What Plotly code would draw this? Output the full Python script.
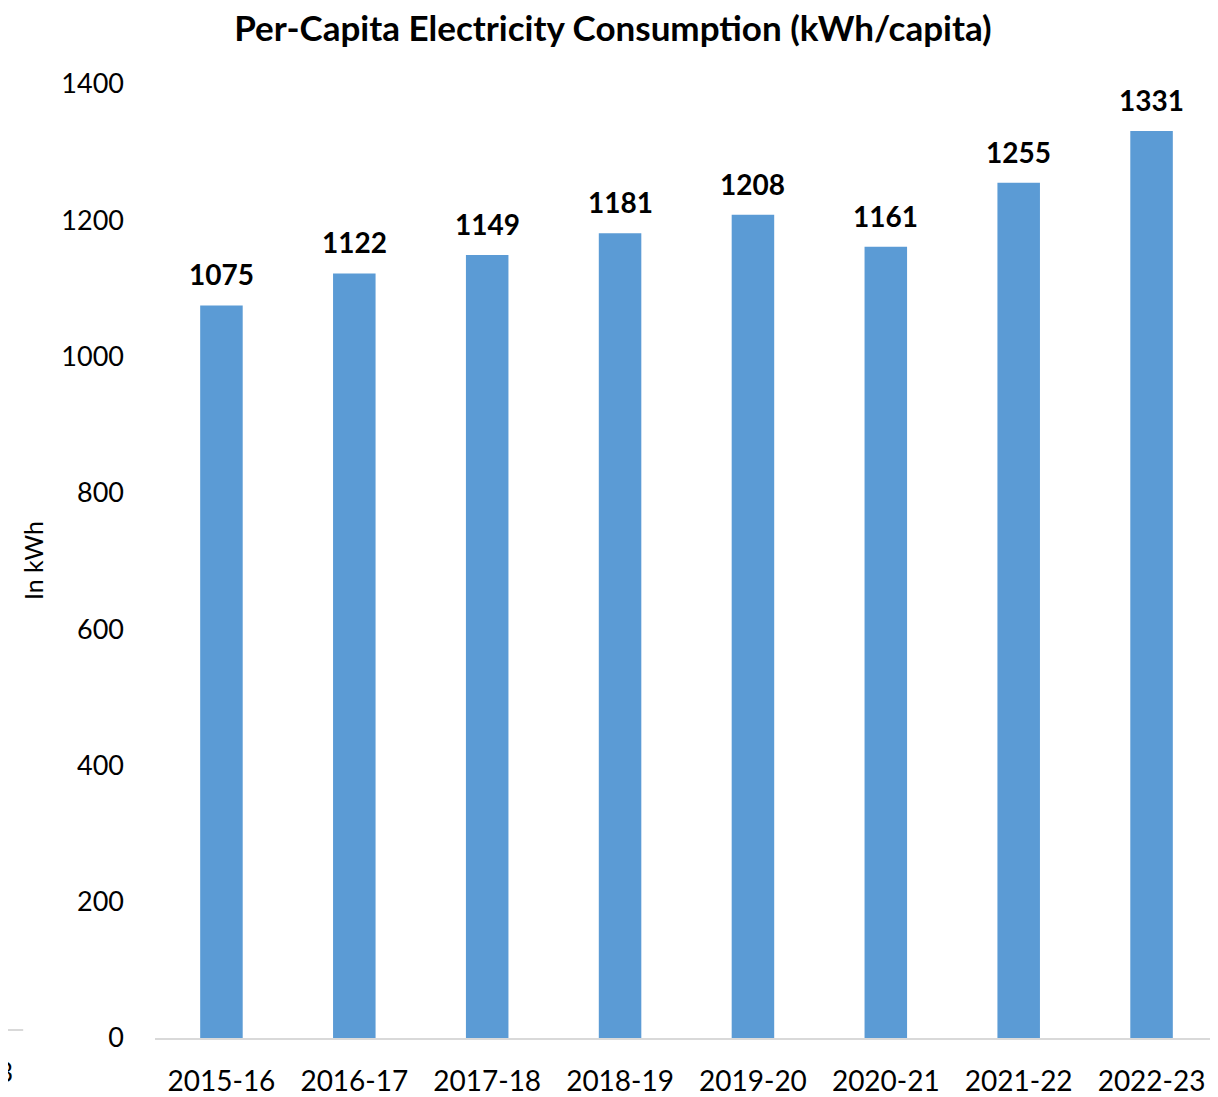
import plotly.graph_objects as go

years = ['2015-16', '2016-17', '2017-18', '2018-19', '2019-20', '2020-21', '2021-22', '2022-23']
kwh_per_capita = [1075, 1122, 1149, 1181, 1208, 1161, 1255, 1331]

FONT = 'Lato, Calibri, Carlito, sans-serif'

fig = go.Figure()
fig.add_trace(go.Bar(
    x=years,
    y=kwh_per_capita,
    marker=dict(color='#5b9bd5', line=dict(width=0)),
    cliponaxis=False,
))

# value labels above the bars
for yr, val in zip(years, kwh_per_capita):
    fig.add_annotation(x=yr, y=val, text=f'<b>{val}</b>', showarrow=False,
                       yanchor='bottom', yshift=12,
                       font=dict(size=28, color='black', family=FONT))

# the page body has an 8px margin, so margins are shifted to compensate
fig.update_layout(
    width=1218, height=1097,
    margin=dict(l=147, r=8, t=76, b=67),
    paper_bgcolor='white', plot_bgcolor='white',
    bargap=0.68,
    showlegend=False,
    font=dict(family=FONT, color='black'),
    title=dict(text='<b>Per-Capita Electricity Consumption (kWh/capita)</b>',
               x=0.4967, xanchor='center', y=0.981, yanchor='middle',
               font=dict(size=35, family=FONT, color='black')),
)

fig.update_xaxes(
    showline=True, linecolor='#d9d9d9', linewidth=2,
    showgrid=False, ticks='', tickfont=dict(size=28),
    ticklabelstandoff=17,
)
fig.update_yaxes(
    range=[0, 1400], dtick=200, showgrid=False, zeroline=False,
    showline=False, ticks='', tickfont=dict(size=27),
    ticklabelstandoff=30,
)

# y axis title
fig.add_annotation(text='In kWh', xref='paper', yref='paper', x=-0.1147, y=0.5,
                   textangle=-90, showarrow=False, font=dict(size=25),
                   xanchor='center', yanchor='middle')

# cropped remnants of a neighbouring chart at the left edge
fig.add_shape(type='line', xref='paper', yref='paper', x0=-0.146, x1=-0.124,
              y0=0.0084, y1=0.0084, line=dict(color='#d9d9d9', width=2))
fig.add_annotation(text='3', xref='paper', yref='paper', x=-0.1317, y=-0.036,
                   showarrow=False, font=dict(size=26), xanchor='right',
                   yanchor='middle')

fig.write_html('out.html')
